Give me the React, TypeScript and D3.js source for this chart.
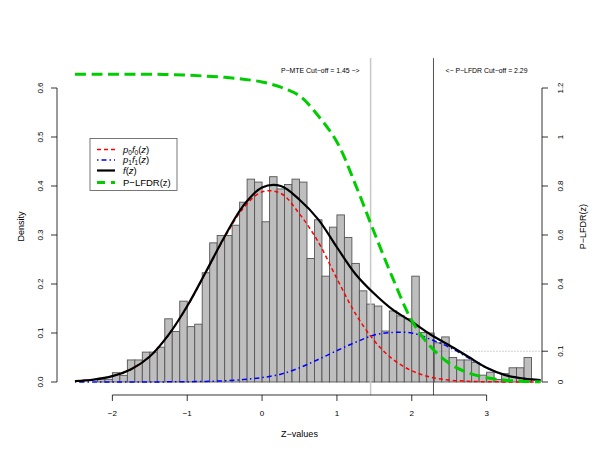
import React from "react";
import * as d3 from "d3";

// ---------- data ----------
const binStart = -2.2;
const binWidth = 0.1;
const histDensity = [
  0.0055, 0.0055, 0.019, 0.0136, 0.045, 0.045, 0.061, 0.061, 0.071, 0.129,
  0.103, 0.165, 0.113, 0.118, 0.223, 0.284, 0.299, 0.299, 0.32, 0.367,
  0.414, 0.408, 0.327, 0.419, 0.394, 0.403, 0.414, 0.408, 0.252, 0.331,
  0.216, 0.316, 0.341, 0.295, 0.242, 0.186, 0.159, 0.155, 0.104, 0.145,
  0.135, 0.129, 0.216, 0.101, 0.1, 0.08, 0.092, 0.05, 0.045, 0.045,
  0.04, 0.014, 0.02, 0.005, 0.017, 0.029, 0.029, 0.05,
];

const zGrid = [
  -2.5, -2.25, -2, -1.75, -1.5, -1.25, -1, -0.75, -0.5, -0.25, 0, 0.25, 0.5,
  0.75, 1, 1.25, 1.5, 1.75, 2, 2.25, 2.5, 2.75, 3, 3.25, 3.5, 3.72,
];
const fz = [
  0.002, 0.005, 0.012, 0.026, 0.052, 0.096, 0.155, 0.225, 0.297, 0.36, 0.397,
  0.4, 0.372, 0.332, 0.275, 0.22, 0.18, 0.147, 0.123, 0.097, 0.075, 0.052,
  0.029, 0.014, 0.007, 0.004,
];
const p0f0 = [
  0.002, 0.005, 0.012, 0.026, 0.052, 0.096, 0.154, 0.224, 0.295, 0.355, 0.388,
  0.385, 0.343, 0.286, 0.211, 0.139, 0.084, 0.046, 0.023, 0.01, 0.004, 0.0015,
  0.0005, 0.0002, 0.0001, 0,
];
const p1f1 = [
  0, 0, 0, 0, 0, 0.0003, 0.0006, 0.0012, 0.0025, 0.005, 0.009, 0.016, 0.029,
  0.046, 0.064, 0.081, 0.096, 0.101, 0.1, 0.087, 0.071, 0.05, 0.029, 0.014,
  0.007, 0.004,
];
const pLfdr = [
  1, 1, 1, 1, 1, 0.999, 0.997, 0.994, 0.99, 0.984, 0.975, 0.958, 0.93, 0.865,
  0.78, 0.64, 0.485, 0.335, 0.2, 0.115, 0.061, 0.03, 0.014, 0.006, 0.002,
  0.0005,
];

const mteCutoff = 1.45;
const lfdrCutoff = 2.29;
const lfdrLevel = 0.1;
const lfdrDisplayScale = 0.628; // P-LFDR of 1 drawn at this density

const xTicks = [-2, -1, 0, 1, 2, 3];
const xTickLabels = ["−2", "−1", "0", "1", "2", "3"];
const yLeftTicks = [0, 0.1, 0.2, 0.3, 0.4, 0.5, 0.6];
const yLeftLabels = ["0.0", "0.1", "0.2", "0.3", "0.4", "0.5", "0.6"];
const yRightTicks = [0.4, 0.6, 0.8, 1, 1.2];
const yRightLabels = ["0.4", "0.6", "0.8", "1", "1.2"];

// ---------- layout ----------
const W = 600;
const H = 464;
const FONT = "'Liberation Sans', Arial, Helvetica, sans-serif";

export default function App() {
  const x = d3.scaleLinear().domain([-2.74, 3.74]).range([57, 542]);
  const y = d3.scaleLinear().domain([0, 0.6]).range([382, 88]);
  const yR = d3.scaleLinear().domain([0, 1.2]).range([382, 88]);
  const yL = (v: number) => y(v * lfdrDisplayScale);

  const plotTop = y(0.661);
  const plotBottom = y(-0.0265);

  const pts = (vals: number[]) => zGrid.map((z, i) => [z, vals[i]] as [number, number]);
  const line = d3
    .line<[number, number]>()
    .x((d) => x(d[0]))
    .y((d) => y(d[1]))
    .curve(d3.curveCatmullRom.alpha(0.5));
  const lineG = d3
    .line<[number, number]>()
    .x((d) => x(d[0]))
    .y((d) => yL(d[1]))
    .curve(d3.curveCatmullRom.alpha(0.5));

  const bars = histDensity.map((h, i) => {
    const x0 = binStart + i * binWidth;
    return { x0, x1: x0 + binWidth, h };
  });

  const y01 = yL(lfdrLevel);

  const legendRows = [
    { color: "#ff0000", dash: "4 3", w: 1.5, kind: "p0" },
    { color: "#0000ff", dash: "1.5 3 5 3", w: 1.5, kind: "p1" },
    { color: "#000000", dash: "", w: 2.2, kind: "f" },
    { color: "#00cd00", dash: "8 6", w: 3, kind: "g" },
  ];
  const legY = [149.5, 160, 170.5, 182.5];
  const legTextY = [153, 163.2, 173.8, 186];

  const legendText = (kind: string) => {
    if (kind === "p0" || kind === "p1") {
      const s = kind === "p0" ? "0" : "1";
      return (
        <>
          <tspan fontStyle="italic">p</tspan>
          <tspan fontSize={6.5} dy={1.8}>{s}</tspan>
          <tspan fontStyle="italic" dy={-1.8}>f</tspan>
          <tspan fontSize={6.5} dy={1.8}>{s}</tspan>
          <tspan dy={-1.8}>(</tspan>
          <tspan fontStyle="italic">z</tspan>
          <tspan>)</tspan>
        </>
      );
    }
    if (kind === "f") {
      return (
        <>
          <tspan fontStyle="italic">f</tspan>
          <tspan>(</tspan>
          <tspan fontStyle="italic">z</tspan>
          <tspan>)</tspan>
        </>
      );
    }
    return <tspan>P−LFDR(z)</tspan>;
  };

  return (
    <svg
      width={W}
      height={H}
      viewBox={`0 0 ${W} ${H}`}
      style={{ position: "absolute", left: 0, top: 0, background: "#fff" }}
      fontFamily={FONT}
    >
      <rect x={0} y={0} width={W} height={H} fill="#fff" />

      {/* histogram */}
      {bars.map((b, i) => (
        <rect
          key={i}
          x={x(b.x0)}
          y={y(b.h)}
          width={x(b.x1) - x(b.x0)}
          height={y(0) - y(b.h)}
          fill="#bebebe"
          stroke="#555"
          strokeWidth={0.9}
        />
      ))}

      {/* cut-off lines */}
      <line x1={x(mteCutoff)} x2={x(mteCutoff)} y1={plotTop} y2={plotBottom} stroke="#c8c8c8" strokeWidth={1.5} />
      <line x1={x(lfdrCutoff)} x2={x(lfdrCutoff)} y1={plotTop} y2={plotBottom} stroke="#555" strokeWidth={1} />
      <line x1={x(lfdrCutoff)} x2={542} y1={y01} y2={y01} stroke="#888" strokeWidth={0.8} strokeDasharray="1 2" />

      {/* curves */}
      <path d={line(pts(p1f1)) || ""} fill="none" stroke="#0000ff" strokeWidth={1.5} strokeDasharray="1.5 3 5 3" />
      <path d={line(pts(p0f0)) || ""} fill="none" stroke="#ff0000" strokeWidth={1.5} strokeDasharray="4 3" />
      <path d={line(pts(fz)) || ""} fill="none" stroke="#000" strokeWidth={2.2} />
      <path d={lineG(pts(pLfdr)) || ""} fill="none" stroke="#00cd00" strokeWidth={3} strokeDasharray="11 5.5" />

      {/* cut-off texts */}
      <text x={x(mteCutoff) - 11} y={73} fontSize={6.9} textAnchor="end" fill="#000">
        P−MTE Cut−off = 1.45 −&gt;
      </text>
      <text x={x(lfdrCutoff) + 12} y={73} fontSize={6.9} textAnchor="start" fill="#000">
        &lt;− P−LFDR Cut−off = 2.29
      </text>

      {/* x axis */}
      <line x1={x(xTicks[0])} x2={x(xTicks[xTicks.length - 1])} y1={plotBottom} y2={plotBottom} stroke="#000" strokeWidth={0.8} />
      {xTicks.map((t, i) => (
        <g key={t}>
          <line x1={x(t)} x2={x(t)} y1={plotBottom} y2={plotBottom + 6} stroke="#000" strokeWidth={0.8} />
          <text x={x(t)} y={415.5} fontSize={8} textAnchor="middle">
            {xTickLabels[i]}
          </text>
        </g>
      ))}
      <text x={(57 + 542) / 2} y={436.5} fontSize={9} textAnchor="middle">
        Z−values
      </text>

      {/* left axis */}
      <line x1={57} x2={57} y1={y(0)} y2={y(0.6)} stroke="#000" strokeWidth={0.8} />
      {yLeftTicks.map((t, i) => (
        <g key={t}>
          <line x1={57} x2={51} y1={y(t)} y2={y(t)} stroke="#000" strokeWidth={0.8} />
          <text transform={`translate(43,${y(t)}) rotate(-90)`} fontSize={8} textAnchor="middle">
            {yLeftLabels[i]}
          </text>
        </g>
      ))}
      <text transform={`translate(23.5,${(plotTop + plotBottom) / 2}) rotate(-90)`} fontSize={9} textAnchor="middle">
        Density
      </text>

      {/* right axis */}
      <line x1={542} x2={542} y1={yR(0)} y2={yR(1.2)} stroke="#000" strokeWidth={0.8} />
      {[0, ...yRightTicks].map((t) => (
        <line key={"r" + t} x1={542} x2={548} y1={yR(t)} y2={yR(t)} stroke="#000" strokeWidth={0.8} />
      ))}
      <line x1={542} x2={548} y1={y01} y2={y01} stroke="#000" strokeWidth={0.8} />
      <text transform={`translate(563,${yR(0)}) rotate(-90)`} fontSize={8} textAnchor="middle">
        0
      </text>
      <text transform={`translate(563,${y01}) rotate(-90)`} fontSize={8} textAnchor="middle">
        0.1
      </text>
      {yRightTicks.map((t, i) => (
        <text key={"rl" + t} transform={`translate(563,${yR(t)}) rotate(-90)`} fontSize={8} textAnchor="middle">
          {yRightLabels[i]}
        </text>
      ))}
      <text transform={`translate(585.5,${(plotTop + plotBottom) / 2}) rotate(-90)`} fontSize={9} textAnchor="middle">
        P−LFDR(z)
      </text>

      {/* legend */}
      <rect x={90} y={138.5} width={87} height={52} fill="#fff" stroke="#555" strokeWidth={0.8} />
      {legendRows.map((r, i) => (
        <g key={i}>
          <line x1={97} x2={115} y1={legY[i]} y2={legY[i]} stroke={r.color} strokeWidth={r.w} strokeDasharray={r.dash || undefined} />
          <text x={123} y={legTextY[i]} fontSize={9.5}>
            {legendText(r.kind)}
          </text>
        </g>
      ))}
    </svg>
  );
}
